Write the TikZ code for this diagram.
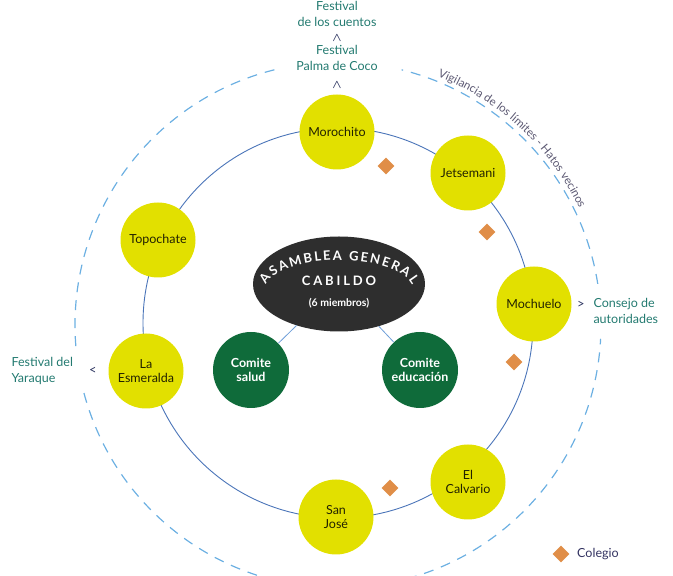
\documentclass[tikz,border=0pt]{standalone}
\usepackage{fontspec}
\setmainfont{Lato}
\usetikzlibrary{positioning,shapes.geometric,decorations.text}
\definecolor{pueblo}{HTML}{E2E000}
\definecolor{comite}{HTML}{0F6B3A}
\definecolor{asamblea}{HTML}{2E2E2E}
\definecolor{anillo}{HTML}{4A74B8}
\definecolor{enlace}{HTML}{6E9ED8}
\definecolor{limite}{HTML}{6CB0E2}
\definecolor{festival}{HTML}{237A70}
\definecolor{colegio}{HTML}{E08E48}
\definecolor{signo}{HTML}{2C3460}
\definecolor{vigila}{HTML}{5B5872}
\begin{document}
\begin{tikzpicture}
        [x=1pt,y=1pt,
        pueblodecorate/.style={shape=circle,fill=pueblo,minimum size=75pt,inner sep=0pt,align=center,%
          text=black!85!pueblo,font=\fontsize{12.5}{14}\selectfont},%
        comitedecorate/.style={shape=circle,fill=comite,minimum size=76pt,inner sep=0pt,align=center,%
          text=white,font=\bfseries\fontsize{12.5}{14}\selectfont},%
        asambleadecorate/.style={shape=ellipse,fill=asamblea,minimum width=172pt,minimum height=95pt,inner sep=0pt},%
        colegiodecorate/.style={shape=diamond,fill=colegio,minimum size=17pt,inner sep=0pt},%
        festivaldecorate/.style={text=festival,align=center,font=\fontsize{12.5}{16.5}\selectfont},%
        signodecorate/.style={text=signo,font=\boldmath\fontsize{12}{12}\selectfont,inner sep=0pt},%
        enlacedecorate/.style={-,draw=enlace,thick}]
        \clip (0,0) rectangle (673,576);
        \coordinate (centro) at (338,253);
        \coordinate (borde) at (338,251);
        %% ring and border
        \draw[anillo,line width=0.9pt] (centro) circle[radius=195];
        \draw[limite,line width=1.2pt,dash pattern=on 10pt off 8pt]
          ([shift={(borde)}]104:263) arc[start angle=104,end angle=185,radius=263]
          ([shift={(borde)}]195:263) arc[start angle=195,end angle=357,radius=263]
          ([shift={(borde)}]9:263) arc[start angle=9,end angle=76,radius=263];
        \path[decorate,decoration={text along path,text align=center,
          text={|\fontsize{11.5}{12}\selectfont\color{vigila}|Vigilancia de los límites - Hatos vecinos}}]
          ([shift={(borde)}]73:268) arc[start angle=73,end angle=21,radius=268];
        %% nodes or vertices
        \foreach \nodename/\x/\y/\texto in {morochito/337/444/Morochito, jetsemani/468/403/Jetsemani,
          mochuelo/534/272/Mochuelo, calvario/468/94/{El\\Calvario}, sanjose/336/59/{San\\José},
          esmeralda/146/205/{La\\Esmeralda}, topochate/158/336/Topochate}
        {
          \node (\nodename) at (\x,\y) [pueblodecorate] {\texto};
        }
        \node (cabildo) at (339,292) [asambleadecorate] {};
        \path[decorate,decoration={text along path,text align={fit to path},
          text={|\bfseries\fontsize{13}{14}\selectfont\color{white}|ASAMBLEA GENERAL}}]
          (266.1,291.2) arc[start angle=170,end angle=10,x radius=74,y radius=30];
        \node (cabildotxt) at (339,295) [text=white,font=\bfseries\fontsize{13}{14}\selectfont\addfontfeature{LetterSpace=22}] {CABILDO};
        \node (miembros) at (339,273) [text=white,font=\bfseries\fontsize{10.5}{12}\selectfont] {(6 miembros)};
        \node (salud) at (251,206) [comitedecorate] {Comite\\salud};
        \node (educacion) at (420,206) [comitedecorate] {Comite\\educación};
        %% edges or lines
        \path
        \foreach \startnode/\endnode in {cabildo/salud, cabildo/educacion}
        {
          (\startnode) edge[enlacedecorate] (\endnode)
        };
        %% colegios
        \foreach \nodename/\x/\y in {colegioa/386/410, colegiob/487/344, colegioc/514/214, colegiod/390/88}
        {
          \node (\nodename) at (\x,\y) [colegiodecorate] {};
        }
        \node (leyenda) at (561,22) [colegiodecorate] {};
        \node (colegiotxt) [right=4pt of leyenda,text=black!70!blue!60!gray,font=\fontsize{12.5}{14}\selectfont] {Colegio};
        %% festivales and consejo
        \node (palma) at (337,518) [festivaldecorate] {Festival\\Palma de Coco};
        \node (cuentos) at (337,562) [festivaldecorate] {Festival\\de los cuentos};
        \node (signoa) at (337,538) [signodecorate] {$\wedge$};
        \node (signob) at (337,491) [signodecorate] {$\wedge$};
        \node (yaraque) at (8,205) [festivaldecorate,anchor=west,align=left] {Festival del\\Yaraque};
        \node (signoc) at (93,205) [signodecorate,font=\fontsize{13}{14}\selectfont] {<};
        \node (consejo) at (590,265) [festivaldecorate,anchor=west,align=left] {Consejo de\\autoridades};
        \node (signod) at (581,271) [signodecorate,font=\fontsize{13}{14}\selectfont] {>};
      \end{tikzpicture}
\end{document}
